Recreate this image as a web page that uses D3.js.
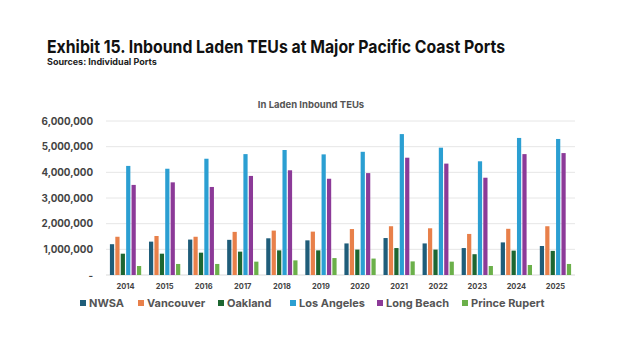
<!DOCTYPE html>
<html>
<head>
<meta charset="utf-8">
<script src="https://cdn.jsdelivr.net/npm/d3@7"></script>
<style>
  body { margin: 0; background: #fff; }
  text { font-family: Inter, "Open Sans", sans-serif; }
</style>
</head>
<body>
<div id="container"></div>
<script>
/* DATA */
const years = ["2014","2015","2016","2017","2018","2019","2020","2021","2022","2023","2024","2025"];
const ports = ["NWSA", "Vancouver", "Oakland", "Los Angeles", "Long Beach", "Prince Rupert"];
const nwsa = [1200000, 1300000, 1380000, 1370000, 1430000, 1350000, 1230000, 1440000, 1230000, 1050000, 1270000, 1130000];
const vancouver = [1490000, 1520000, 1490000, 1680000, 1730000, 1690000, 1790000, 1900000, 1820000, 1600000, 1800000, 1900000];
const oakland = [830000, 830000, 870000, 910000, 960000, 960000, 990000, 1050000, 990000, 810000, 950000, 940000];
const losAngeles = [4250000, 4140000, 4530000, 4710000, 4870000, 4700000, 4800000, 5490000, 4960000, 4430000, 5340000, 5300000];
const longBeach = [3510000, 3610000, 3430000, 3860000, 4080000, 3750000, 3970000, 4570000, 4340000, 3790000, 4710000, 4750000];
const princeRupert = [350000, 430000, 430000, 520000, 570000, 660000, 640000, 530000, 520000, 350000, 390000, 430000];
const yTicks = [0, 1000000, 2000000, 3000000, 4000000, 5000000, 6000000];

const series = [nwsa, vancouver, oakland, losAngeles, longBeach, princeRupert];
const colors = ["#1f5d7a", "#e8804a", "#1d6631", "#2b9fd2", "#8c3a98", "#6bb04a"];

/* CONSTANTS */
const width = 624, height = 351;
const plotLeft = 106, plotRight = 575, plotTop = 121, plotBottom = 275;

const svg = d3.select("#container")
  .append("svg")
  .attr("width", width)
  .attr("height", height);

// titles
svg.append("text")
  .attr("x", 47).attr("y", 53)
  .attr("font-size", 17.5).attr("font-weight", 700).attr("fill", "#111")
  .attr("textLength", 458).attr("lengthAdjust", "spacingAndGlyphs")
  .text("Exhibit 15. Inbound Laden TEUs at Major Pacific Coast Ports");
svg.append("text")
  .attr("x", 47).attr("y", 65)
  .attr("font-size", 9).attr("font-weight", 700).attr("fill", "#222")
  .text("Sources: Individual Ports");

svg.append("text")
  .attr("x", 311).attr("y", 108)
  .attr("text-anchor", "middle")
  .attr("font-size", 9.5).attr("font-weight", 700).attr("fill", "#555")
  .text("In Laden Inbound TEUs");

/* SCALES */
const xScale = d3.scaleBand().domain(years).range([plotLeft, plotRight]).paddingInner(0.2).paddingOuter(0.1);
const xInner = d3.scaleBand().domain(ports).range([0, xScale.bandwidth()]).paddingInner(0.22);
const yScale = d3.scaleLinear().domain([0, 6000000]).range([plotBottom, plotTop]);

// grid
svg.append("g")
  .selectAll("line")
  .data(yTicks.slice(1))
  .join("line")
  .attr("x1", plotLeft).attr("x2", plotRight)
  .attr("y1", d => yScale(d)).attr("y2", d => yScale(d))
  .attr("stroke", "#e6e6e6").attr("stroke-width", 1);

// y axis
const yAxis = d3.axisLeft(yScale).tickValues(yTicks).tickSize(0).tickPadding(13)
  .tickFormat(d => d === 0 ? "-" : d3.format(",")(d));
svg.append("g")
  .attr("transform", `translate(${plotLeft}, 0)`)
  .call(yAxis)
  .call(g => g.select(".domain").remove())
  .call(g => g.selectAll("text")
    .attr("font-size", 9.8).attr("font-weight", 700).attr("fill", "#444")
    .attr("font-family", "Inter, sans-serif"));

// baseline
svg.append("line")
  .attr("x1", plotLeft).attr("x2", plotRight)
  .attr("y1", plotBottom).attr("y2", plotBottom)
  .attr("stroke", "#d9d9d9");

// bars
const groups = svg.append("g")
  .selectAll("g")
  .data(years)
  .join("g")
  .attr("transform", d => `translate(${xScale(d)}, 0)`);

groups.selectAll("rect")
  .data((yr, i) => ports.map((p, j) => ({ port: p, value: series[j][i], color: colors[j] })))
  .join("rect")
  .attr("x", d => xInner(d.port))
  .attr("width", xInner.bandwidth())
  .attr("y", d => yScale(d.value))
  .attr("height", d => plotBottom - yScale(d.value))
  .attr("fill", d => d.color);

// x axis
const xAxis = d3.axisBottom(xScale).tickSize(0).tickPadding(9);
svg.append("g")
  .attr("transform", `translate(0, ${plotBottom})`)
  .call(xAxis)
  .call(g => g.select(".domain").remove())
  .call(g => g.selectAll("text")
    .attr("font-size", 7.5).attr("font-weight", 700).attr("fill", "#444")
    .attr("font-family", "Inter, sans-serif"));

// legend
const legendX = [80, 138, 218, 290, 377, 462];
const legend = svg.append("g")
  .selectAll("g")
  .data(ports)
  .join("g")
  .attr("transform", (d, i) => `translate(${legendX[i]}, 307)`);
legend.append("rect")
  .attr("x", 0).attr("y", -7)
  .attr("width", 6).attr("height", 6)
  .attr("fill", (d, i) => colors[i]);
legend.append("text")
  .attr("x", 9).attr("y", 0)
  .attr("font-size", 11).attr("font-weight", 700).attr("fill", "#555")
  .text(d => d);
</script>
</body>
</html>
